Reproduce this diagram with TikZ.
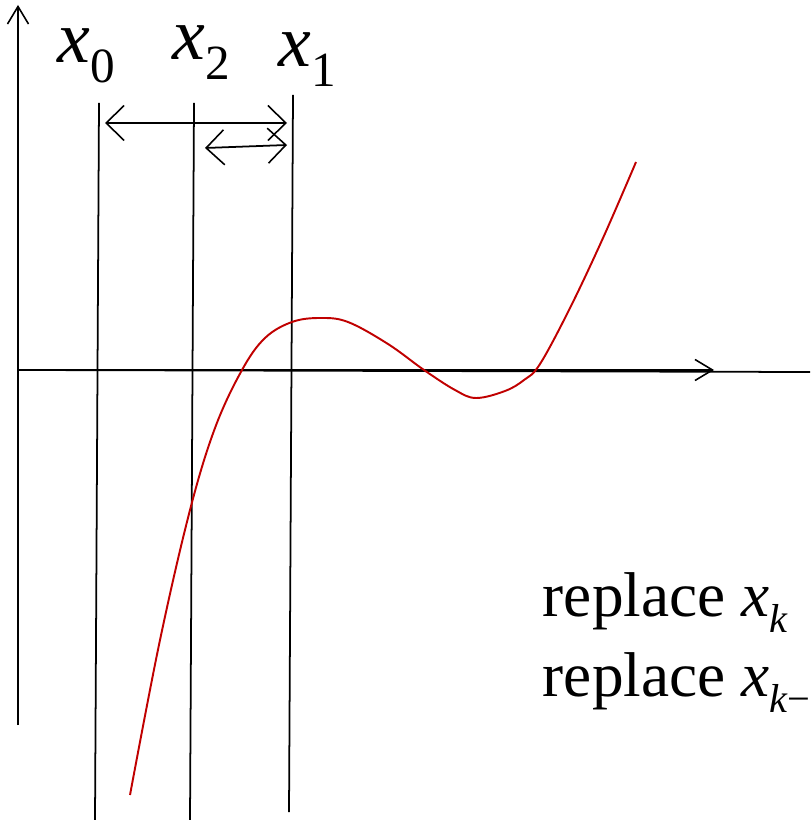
\documentclass[tikz,border=0pt]{standalone}
\usepackage{fontspec}
\setmainfont{Liberation Serif}
\usepackage{tikz}
\usetikzlibrary{arrows.meta}

\definecolor{curvered}{RGB}{192,0,0}
\newcommand{\xsub}[1]{\textit{x}\raisebox{-0.26em}{\fontsize{28}{28}\selectfont #1}}
\newcommand{\xsubsmall}[1]{\textit{x}\raisebox{-0.26em}{\fontsize{23}{23}\selectfont\textit{#1}}}

\begin{document}
\begin{tikzpicture}[x=0.02cm, y=-0.02cm, line width=1pt,
    >={Straight Barb[length=3.5mm, width=4.2mm, line width=0.9pt]},
    span/.style={{Straight Barb[length=3.6mm, width=7mm, line width=0.9pt]}-{Straight Barb[length=3.6mm, width=7mm, line width=0.9pt]}}]
    \useasboundingbox (0,0) rectangle (810,820);
    \clip (0,0) rectangle (810,820);

    % axes
    \coordinate (O) at (18,370);
    \coordinate (ytop) at (18,5);
    \coordinate (ybot) at (18,725);
    \coordinate (xtip) at (714,370);
    \coordinate (xend) at (810,372);
    \draw[->] (ybot) -- (ytop);
    \draw (O) -- (xend);
    \draw[->] (O) -- (xtip);

    % iterate lines
    \coordinate (a0) at (99,103);  \coordinate (b0) at (95,820);
    \coordinate (a2) at (194,103); \coordinate (b2) at (190,820);
    \coordinate (a1) at (293,95);  \coordinate (b1) at (289,812);
    \draw (a0) -- (b0);
    \draw (a2) -- (b2);
    \draw (a1) -- (b1);

    % labels
    \node[anchor=base west, inner sep=0pt, font=\fontsize{42}{44}\selectfont] (lx0) at (57,63) {\xsub{0}};
    \node[anchor=base west, inner sep=0pt, font=\fontsize{42}{44}\selectfont] (lx2) at (172,60) {\xsub{2}};
    \node[anchor=base west, inner sep=0pt, font=\fontsize{42}{44}\selectfont] (lx1) at (278,67) {\xsub{1}};

    % brackets
    \coordinate (p0) at (105,123); \coordinate (p1) at (287,123);
    \coordinate (q0) at (205,148); \coordinate (q1) at (287,145);
    \draw[span] (p0) -- (p1);
    \draw[span] (q0) -- (q1);

    % function
    \draw[curvered, line width=1.1pt] plot[smooth, tension=0.6] coordinates {
        (130,795) (160,640) (190,510) (215,428) (242,370) (265,338)
        (292,322) (320,318) (348,322) (388,344) (424,370) (455,390)
        (476,398) (505,391) (524,380) (540,364) (570,308) (603,238) (636,162)};

    % text
    \node[anchor=base west, inner sep=0pt, font=\fontsize{36}{38}\selectfont] (r1) at (542,616) {replace \xsubsmall{k}};
    \node[anchor=base west, inner sep=0pt, font=\fontsize{36}{38}\selectfont] (r2) at (542,696) {replace \xsubsmall{k\textup{−}1}};
\end{tikzpicture}
\end{document}
